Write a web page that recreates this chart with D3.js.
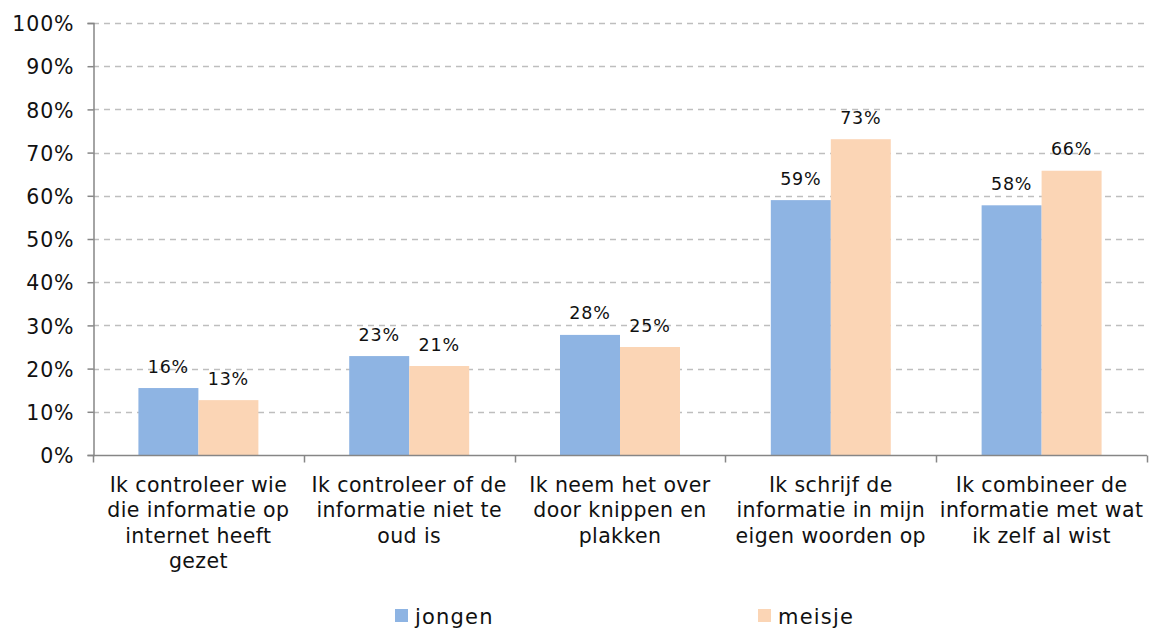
<!DOCTYPE html>
<html>
<head>
<meta charset="utf-8">
<script src="https://cdnjs.cloudflare.com/ajax/libs/d3/7.8.5/d3.min.js"></script>
<style>
  html, body { margin: 0; padding: 0; background: #fff; }
  svg { display: block; font-family: "DejaVu Sans", Verdana, sans-serif; }
</style>
</head>
<body>
<svg id="chart" width="1149" height="630"></svg>
<script>
// Survey answers per statement, split by gender (share of respondents)
const categories = [
  ["Ik controleer wie", "die informatie op", "internet heeft", "gezet"],
  ["Ik controleer of de", "informatie niet te", "oud is"],
  ["Ik neem het over", "door knippen en", "plakken"],
  ["Ik schrijf de", "informatie in mijn", "eigen woorden op"],
  ["Ik combineer de", "informatie met wat", "ik zelf al wist"]
];
const seriesNames = ["jongen", "meisje"];
const jongen = [0.155, 0.229, 0.278, 0.590, 0.578];
const meisje = [0.127, 0.206, 0.250, 0.731, 0.658];
const yTicks = [0, 0.1, 0.2, 0.3, 0.4, 0.5, 0.6, 0.7, 0.8, 0.9, 1.0];
const colors = ["#8EB4E3", "#FBD5B5"];

const svg = d3.select("#chart");
const plotLeft = 93, plotRight = 1147, plotTop = 23, plotBottom = 455;

const x0 = d3.scaleBand().domain(d3.range(categories.length)).range([plotLeft, plotRight]).paddingInner(0).paddingOuter(0);
const x1 = d3.scaleBand().domain(seriesNames).range([0, x0.bandwidth()]).paddingInner(0).paddingOuter(0.757);
const y = d3.scaleLinear().domain([0, 1]).range([plotBottom, plotTop]);
const fmt = d3.format(".0%");

// Gridlines
svg.append("g").selectAll("line").data(yTicks.filter(d => d > 0)).join("line")
  .attr("x1", plotLeft).attr("x2", plotRight)
  .attr("y1", d => Math.round(y(d)) + 0.5).attr("y2", d => Math.round(y(d)) + 0.5)
  .attr("stroke", "#BEBEBE").attr("stroke-width", 1.5).attr("stroke-dasharray", "6,5");

// Y axis
const yAxis = d3.axisLeft(y).tickValues(yTicks).tickFormat(fmt).tickSize(6).tickPadding(13);
const gy = svg.append("g").attr("transform", `translate(${plotLeft + 0.5},0)`).call(yAxis);
gy.select(".domain").attr("stroke", "#868686").attr("stroke-width", 1.5);
gy.selectAll(".tick line").attr("stroke", "#868686").attr("stroke-width", 1.5);
gy.selectAll(".tick text").attr("font-size", 20.5).attr("fill", "#111").attr("font-family", "DejaVu Sans")
  .attr("letter-spacing", 0.9).attr("dy", "0.38em");

// Bars
const data = categories.map((c, i) => ({ i, vals: [
  { key: "jongen", v: jongen[i] },
  { key: "meisje", v: meisje[i] }
]}));
const groups = svg.append("g").selectAll("g").data(data).join("g")
  .attr("transform", d => `translate(${x0(d.i)},0)`);
groups.selectAll("rect").data(d => d.vals).join("rect")
  .attr("x", d => x1(d.key)).attr("width", x1.bandwidth())
  .attr("y", d => y(d.v)).attr("height", d => y(0) - y(d.v))
  .attr("fill", (d, k) => colors[k]);
groups.selectAll("text").data(d => d.vals).join("text")
  .attr("x", d => x1(d.key) + x1.bandwidth() / 2)
  .attr("y", d => y(d.v) - 15.5)
  .attr("text-anchor", "middle").attr("font-size", 17.5).attr("letter-spacing", 0.8).attr("fill", "#111")
  .text(d => fmt(d.v));

// X axis
const gx = svg.append("g").attr("transform", `translate(0,${plotBottom + 0.5})`);
gx.append("line").attr("x1", plotLeft).attr("x2", plotRight).attr("stroke", "#868686").attr("stroke-width", 1.5);
gx.selectAll("line.tk").data(d3.range(categories.length + 1)).join("line").attr("class", "tk")
  .attr("x1", i => Math.round(plotLeft + i * x0.step()) + 0.5).attr("x2", i => Math.round(plotLeft + i * x0.step()) + 0.5)
  .attr("y1", 0).attr("y2", 7).attr("stroke", "#868686").attr("stroke-width", 1.5);

const labels = svg.append("g").selectAll("text").data(categories).join("text")
  .attr("x", (d, i) => x0(i) + x0.bandwidth() / 2)
  .attr("y", 491.5)
  .attr("text-anchor", "middle").attr("font-size", 20.5).attr("letter-spacing", 0.4).attr("fill", "#111");
labels.selectAll("tspan").data(d => d).join("tspan")
  .attr("x", function () { return d3.select(this.parentNode).attr("x"); })
  .attr("dy", (d, k) => k === 0 ? 0 : 25.5)
  .text(d => d);

// Legend
const legendX = [395, 758];
const lg = svg.append("g").selectAll("g").data(seriesNames).join("g")
  .attr("transform", (d, i) => `translate(${legendX[i]},609)`);
lg.append("rect").attr("width", 13).attr("height", 13).attr("fill", (d, i) => colors[i]);
lg.append("text").attr("x", 20).attr("y", 14.5).attr("font-size", 21).attr("letter-spacing", 1.2)
  .attr("fill", "#111").text(d => d);
</script>
</body>
</html>
